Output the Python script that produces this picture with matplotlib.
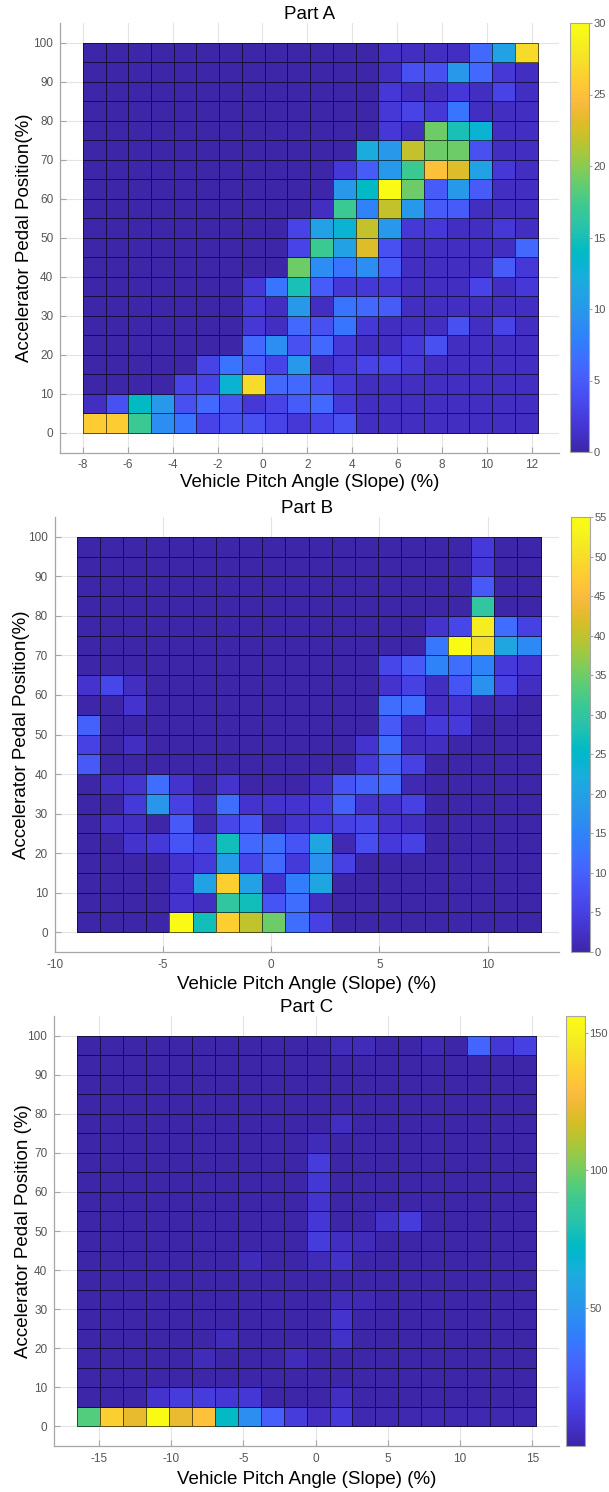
import numpy as np
import matplotlib
matplotlib.use("Agg")
import matplotlib.pyplot as plt
from matplotlib.colors import LinearSegmentedColormap

# ---------------- data (rows listed from top: 95-100 % down to 0-5 %) ----------------
pedal_edges = [0, 5, 10, 15, 20, 25, 30, 35, 40, 45, 50, 55, 60, 65, 70, 75, 80, 85, 90, 95, 100]

pitch_range_a = (-8.0, 12.25)
counts_a = [
    [0, 0, 0, 0, 0, 0, 0, 0, 0, 0, 0, 0, 0, 1, 1, 1, 1, 6, 11, 27],
    [0, 0, 0, 0, 0, 0, 0, 0, 0, 0, 0, 0, 0, 1, 4, 4, 10, 6, 2, 1],
    [0, 0, 0, 0, 0, 0, 0, 0, 0, 0, 0, 0, 0, 2, 1, 1, 2, 1, 3, 1],
    [0, 0, 0, 0, 0, 0, 0, 0, 0, 0, 0, 0, 0, 2, 3, 2, 7, 1, 1, 1],
    [0, 0, 0, 0, 0, 0, 0, 0, 0, 0, 0, 0, 0, 2, 1, 19, 15, 13, 1, 1],
    [0, 0, 0, 0, 0, 0, 0, 0, 0, 0, 0, 0, 12, 10, 22, 19, 19, 4, 1, 1],
    [0, 0, 0, 0, 0, 0, 0, 0, 0, 0, 0, 2, 5, 10, 17, 25, 23, 11, 2, 1],
    [0, 0, 0, 0, 0, 0, 0, 0, 0, 0, 0, 10, 14, 30, 19, 5, 10, 5, 1, 1],
    [0, 0, 0, 0, 0, 0, 0, 0, 0, 0, 1, 17, 8, 22, 10, 5, 5, 1, 1, 1],
    [0, 0, 0, 0, 0, 0, 0, 0, 0, 3, 11, 13, 22, 10, 2, 2, 1, 1, 2, 1],
    [0, 0, 0, 0, 0, 0, 0, 0, 0, 3, 17, 11, 23, 4, 1, 1, 1, 1, 1, 6],
    [0, 0, 0, 0, 0, 0, 0, 0, 0, 19, 9, 7, 9, 5, 1, 1, 1, 1, 5, 2],
    [0, 0, 0, 0, 0, 0, 0, 2, 7, 15, 5, 2, 2, 2, 1, 1, 1, 3, 1, 2],
    [0, 0, 0, 0, 0, 0, 0, 2, 1, 10, 1, 7, 6, 5, 1, 1, 1, 1, 1, 1],
    [0, 0, 0, 0, 0, 0, 0, 2, 1, 6, 4, 7, 2, 1, 1, 1, 4, 1, 3, 1],
    [0, 0, 0, 0, 0, 0, 0, 6, 9, 4, 6, 2, 1, 1, 2, 4, 1, 1, 1, 1],
    [0, 0, 0, 0, 0, 3, 7, 5, 3, 10, 1, 2, 3, 3, 2, 1, 1, 1, 1, 1],
    [0, 0, 0, 0, 3, 3, 13, 27, 6, 6, 4, 2, 1, 1, 1, 1, 1, 1, 1, 1],
    [1, 4, 14, 10, 4, 6, 4, 2, 3, 5, 6, 2, 1, 1, 1, 1, 1, 1, 1, 1],
    [26, 26, 17, 9, 7, 3, 4, 4, 3, 2, 3, 4, 1, 1, 1, 1, 1, 1, 1, 1],
]

pitch_range_b = (-9.0, 12.45)
counts_b = [
    [0, 0, 0, 0, 0, 0, 0, 0, 0, 0, 0, 0, 0, 0, 0, 0, 0, 4, 0, 0],
    [0, 0, 0, 0, 0, 0, 0, 0, 0, 0, 0, 0, 0, 0, 0, 0, 0, 4, 0, 0],
    [0, 0, 0, 0, 0, 0, 0, 0, 0, 0, 0, 0, 0, 0, 0, 0, 0, 9, 0, 0],
    [0, 0, 0, 0, 0, 0, 0, 0, 0, 0, 0, 0, 0, 0, 0, 0, 0, 30, 0, 0],
    [0, 0, 0, 0, 0, 0, 0, 0, 0, 0, 0, 0, 0, 0, 0, 3, 6, 52, 12, 5],
    [0, 0, 0, 0, 0, 0, 0, 0, 0, 0, 0, 0, 0, 0, 0, 13, 55, 50, 21, 16],
    [0, 0, 0, 0, 0, 0, 0, 0, 0, 0, 0, 0, 0, 6, 9, 15, 12, 15, 4, 3],
    [3, 6, 2, 0, 0, 0, 0, 0, 0, 0, 0, 0, 0, 3, 5, 2, 8, 17, 5, 2],
    [0, 0, 3, 0, 0, 0, 0, 0, 0, 0, 0, 0, 0, 12, 12, 2, 3, 1, 1, 0],
    [10, 0, 0, 0, 0, 0, 0, 0, 0, 0, 0, 0, 0, 9, 2, 4, 4, 0, 0, 0],
    [5, 0, 2, 0, 0, 0, 0, 0, 0, 0, 0, 0, 3, 12, 2, 2, 0, 0, 0, 0],
    [9, 0, 0, 0, 0, 0, 0, 0, 0, 0, 0, 0, 4, 10, 5, 0, 0, 0, 0, 0],
    [0, 2, 3, 12, 3, 0, 3, 0, 0, 0, 2, 8, 10, 11, 1, 0, 0, 0, 0, 0],
    [0, 0, 4, 18, 5, 2, 12, 3, 3, 3, 4, 10, 3, 3, 5, 0, 0, 0, 0, 0],
    [0, 2, 2, 0, 9, 1, 6, 8, 1, 3, 4, 5, 6, 3, 2, 0, 0, 0, 0, 0],
    [0, 0, 3, 4, 8, 6, 27, 11, 12, 8, 21, 1, 7, 4, 5, 0, 0, 0, 0, 0],
    [0, 0, 0, 0, 3, 4, 19, 6, 11, 4, 17, 5, 0, 0, 0, 0, 0, 0, 0, 0],
    [0, 0, 0, 0, 3, 20, 48, 20, 3, 14, 21, 0, 0, 0, 0, 0, 0, 0, 0, 0],
    [0, 0, 0, 0, 3, 2, 30, 27, 8, 12, 2, 0, 0, 0, 0, 0, 0, 0, 0, 0],
    [0, 0, 0, 0, 55, 27, 48, 40, 35, 12, 5, 0, 0, 0, 0, 0, 0, 0, 0, 0],
]

pitch_range_c = (-16.5, 15.25)
counts_c = [
    [0, 0, 0, 0, 0, 0, 0, 0, 0, 0, 0, 4, 4, 0, 0, 3, 0, 30, 10, 14],
    [0, 0, 0, 0, 0, 0, 0, 0, 0, 0, 0, 0, 0, 0, 0, 0, 0, 0, 0, 0],
    [0, 0, 0, 0, 0, 0, 0, 0, 0, 0, 0, 0, 0, 0, 0, 0, 0, 0, 0, 0],
    [0, 0, 0, 0, 0, 0, 0, 0, 0, 0, 0, 0, 0, 0, 0, 0, 0, 0, 0, 0],
    [0, 0, 0, 0, 0, 0, 0, 0, 0, 0, 0, 5, 0, 0, 0, 0, 0, 0, 0, 0],
    [0, 0, 0, 0, 0, 0, 0, 0, 0, 0, 4, 0, 0, 0, 0, 0, 0, 0, 0, 0],
    [0, 0, 0, 0, 0, 0, 0, 0, 0, 0, 12, 0, 0, 0, 0, 0, 0, 0, 0, 0],
    [0, 0, 0, 0, 0, 0, 0, 0, 0, 0, 10, 0, 0, 0, 0, 0, 0, 0, 0, 0],
    [0, 0, 0, 0, 0, 0, 0, 0, 0, 0, 8, 0, 0, 0, 0, 0, 0, 0, 0, 0],
    [0, 0, 0, 0, 0, 0, 0, 0, 0, 0, 10, 0, 0, 7, 12, 0, 0, 0, 0, 0],
    [0, 0, 0, 0, 0, 0, 0, 0, 0, 0, 12, 5, 4, 0, 0, 0, 0, 0, 0, 0],
    [0, 0, 0, 0, 0, 0, 0, 4, 0, 0, 4, 7, 0, 0, 0, 0, 0, 0, 0, 0],
    [0, 0, 0, 0, 0, 0, 0, 0, 0, 0, 0, 0, 0, 0, 0, 0, 0, 0, 0, 0],
    [0, 0, 0, 0, 0, 0, 0, 0, 0, 0, 0, 4, 3, 0, 0, 0, 0, 0, 0, 0],
    [0, 0, 0, 0, 0, 0, 0, 0, 0, 0, 0, 8, 0, 0, 0, 0, 0, 0, 0, 0],
    [0, 0, 0, 0, 0, 0, 4, 0, 0, 0, 0, 7, 0, 0, 0, 0, 0, 0, 0, 0],
    [0, 0, 0, 0, 0, 4, 0, 0, 0, 4, 0, 0, 0, 0, 0, 0, 0, 0, 0, 0],
    [0, 0, 0, 0, 0, 0, 0, 0, 0, 0, 0, 0, 0, 0, 0, 0, 0, 0, 0, 0],
    [0, 0, 0, 8, 12, 12, 10, 10, 0, 0, 0, 6, 0, 0, 0, 0, 0, 0, 0, 0],
    [94, 136, 122, 156, 123, 131, 73, 47, 27, 12, 5, 11, 2, 2, 2, 2, 2, 2, 2, 2],
]

titles = ["Part A", "Part B", "Part C"]
ylabels = ["Accelerator Pedal Position(%)", "Accelerator Pedal Position(%)",
           "Accelerator Pedal Position (%)"]
xlabel = "Vehicle Pitch Angle (Slope) (%)"
x_ticks_a = [-8, -6, -4, -2, 0, 2, 4, 6, 8, 10, 12]
x_ticks_b = [-10, -5, 0, 5, 10]
x_ticks_c = [-15, -10, -5, 0, 5, 10, 15]
y_ticks = [0, 10, 20, 30, 40, 50, 60, 70, 80, 90, 100]
cbar_ticks_a = [0, 5, 10, 15, 20, 25, 30]
cbar_ticks_b = [0, 5, 10, 15, 20, 25, 30, 35, 40, 45, 50, 55]
cbar_ticks_c = [50, 100, 150]

# ---------------- style ----------------
parula_pts = [
    (0.2422, 0.1504, 0.6603), (0.2578, 0.1818, 0.7511), (0.2706, 0.2147, 0.8364),
    (0.2783, 0.2559, 0.8991), (0.2813, 0.3006, 0.9414), (0.2795, 0.3447, 0.9717),
    (0.2699, 0.3892, 0.9906), (0.2440, 0.4358, 0.9988), (0.1963, 0.4847, 0.9892),
    (0.1786, 0.5289, 0.9682), (0.1687, 0.5703, 0.9359), (0.1460, 0.6091, 0.9079),
    (0.1248, 0.6459, 0.8883), (0.0952, 0.6798, 0.8598), (0.0297, 0.7082, 0.8163),
    (0.0067, 0.7312, 0.7660), (0.0964, 0.7500, 0.7120), (0.1717, 0.7670, 0.6554),
    (0.2161, 0.7843, 0.5923), (0.2906, 0.7973, 0.5188), (0.3909, 0.8029, 0.4354),
    (0.5044, 0.7993, 0.3480), (0.6174, 0.7876, 0.2612), (0.7242, 0.7698, 0.1910),
    (0.8203, 0.7498, 0.1535), (0.9035, 0.7330, 0.1774), (0.9728, 0.7298, 0.2394),
    (0.9970, 0.7659, 0.2199), (0.9892, 0.8136, 0.1885), (0.9676, 0.8639, 0.1643),
    (0.9597, 0.9135, 0.1423), (0.9691, 0.9606, 0.1064), (0.9769, 0.9839, 0.0805),
]
parula = LinearSegmentedColormap.from_list("parula", parula_pts, N=256)

plt.rcParams["font.family"] = ["Liberation Sans", "DejaVu Sans"]
plt.rcParams["axes.unicode_minus"] = False

W, H = 609, 1492
fig = plt.figure(figsize=(W / 100, H / 100), dpi=100)


def rect(l, t, r, b):
    return [l / W, 1 - b / H, (r - l) / W, (b - t) / H]


AX_GREY = "#a6a6a6"
TXT_GREY = "#555555"


def panel(ax_px, cb_px, counts, prange, xlim, xticks, vmax, cticks, title, ylabel, ylab_x, xlab_y):
    ax = fig.add_axes(rect(*ax_px))
    arr = np.flipud(np.array(counts, dtype=float))
    xe = np.linspace(prange[0], prange[1], arr.shape[1] + 1)
    m = ax.pcolormesh(xe, pedal_edges, arr, cmap=parula, vmin=0, vmax=vmax,
                      edgecolors=(0, 0, 0, 0.6), linewidth=0.7, zorder=2)
    ax.set_xlim(*xlim)
    ax.set_ylim(-5, 105)
    ax.set_xticks(xticks)
    ax.set_yticks(y_ticks)
    ax.grid(True, color="#e4e4e4", linewidth=0.8, zorder=0)
    ax.set_axisbelow(True)
    for s in ("top", "right"):
        ax.spines[s].set_visible(False)
    for s in ("left", "bottom"):
        ax.spines[s].set_color(AX_GREY)
        ax.spines[s].set_linewidth(0.9)
    ax.tick_params(direction="in", length=4, color=AX_GREY, labelcolor=TXT_GREY,
                   labelsize=8.5, pad=5, width=0.8)
    ax.set_title(title, fontsize=13.5, pad=-1)
    ax.set_ylabel(ylabel, fontsize=13.5)
    ax.yaxis.set_label_coords(ylab_x, 0.5)
    ax.set_xlabel(xlabel, fontsize=13.5)
    ax.xaxis.set_label_coords(0.5, xlab_y)

    cax = fig.add_axes(rect(*cb_px))
    cb = fig.colorbar(m, cax=cax, ticks=cticks)
    cb.outline.set_edgecolor(AX_GREY)
    cb.outline.set_linewidth(0.8)
    cax.tick_params(direction="out", length=2, color=AX_GREY, labelcolor=TXT_GREY,
                    labelsize=8, pad=1, width=0.8)
    return ax


panel((60.3, 23, 559, 452.5), (570, 23, 589, 452), counts_a, pitch_range_a, (-9.0, 13.2),
      x_ticks_a, 30, cbar_ticks_a, titles[0], ylabels[0], -0.055, -0.05)
panel((55, 517, 559, 952), (571, 517, 590, 952), counts_b, pitch_range_b, (-10.0, 13.3),
      x_ticks_b, 55, cbar_ticks_b, titles[1], ylabels[1], -0.05, -0.055)
panel((54.3, 1016, 559, 1446), (566, 1016, 585, 1446), counts_c, pitch_range_c, (-18.1, 16.85),
      x_ticks_c, 156, cbar_ticks_c, titles[2], ylabels[2], -0.044, -0.058)

fig.savefig("out.png", dpi=100)
